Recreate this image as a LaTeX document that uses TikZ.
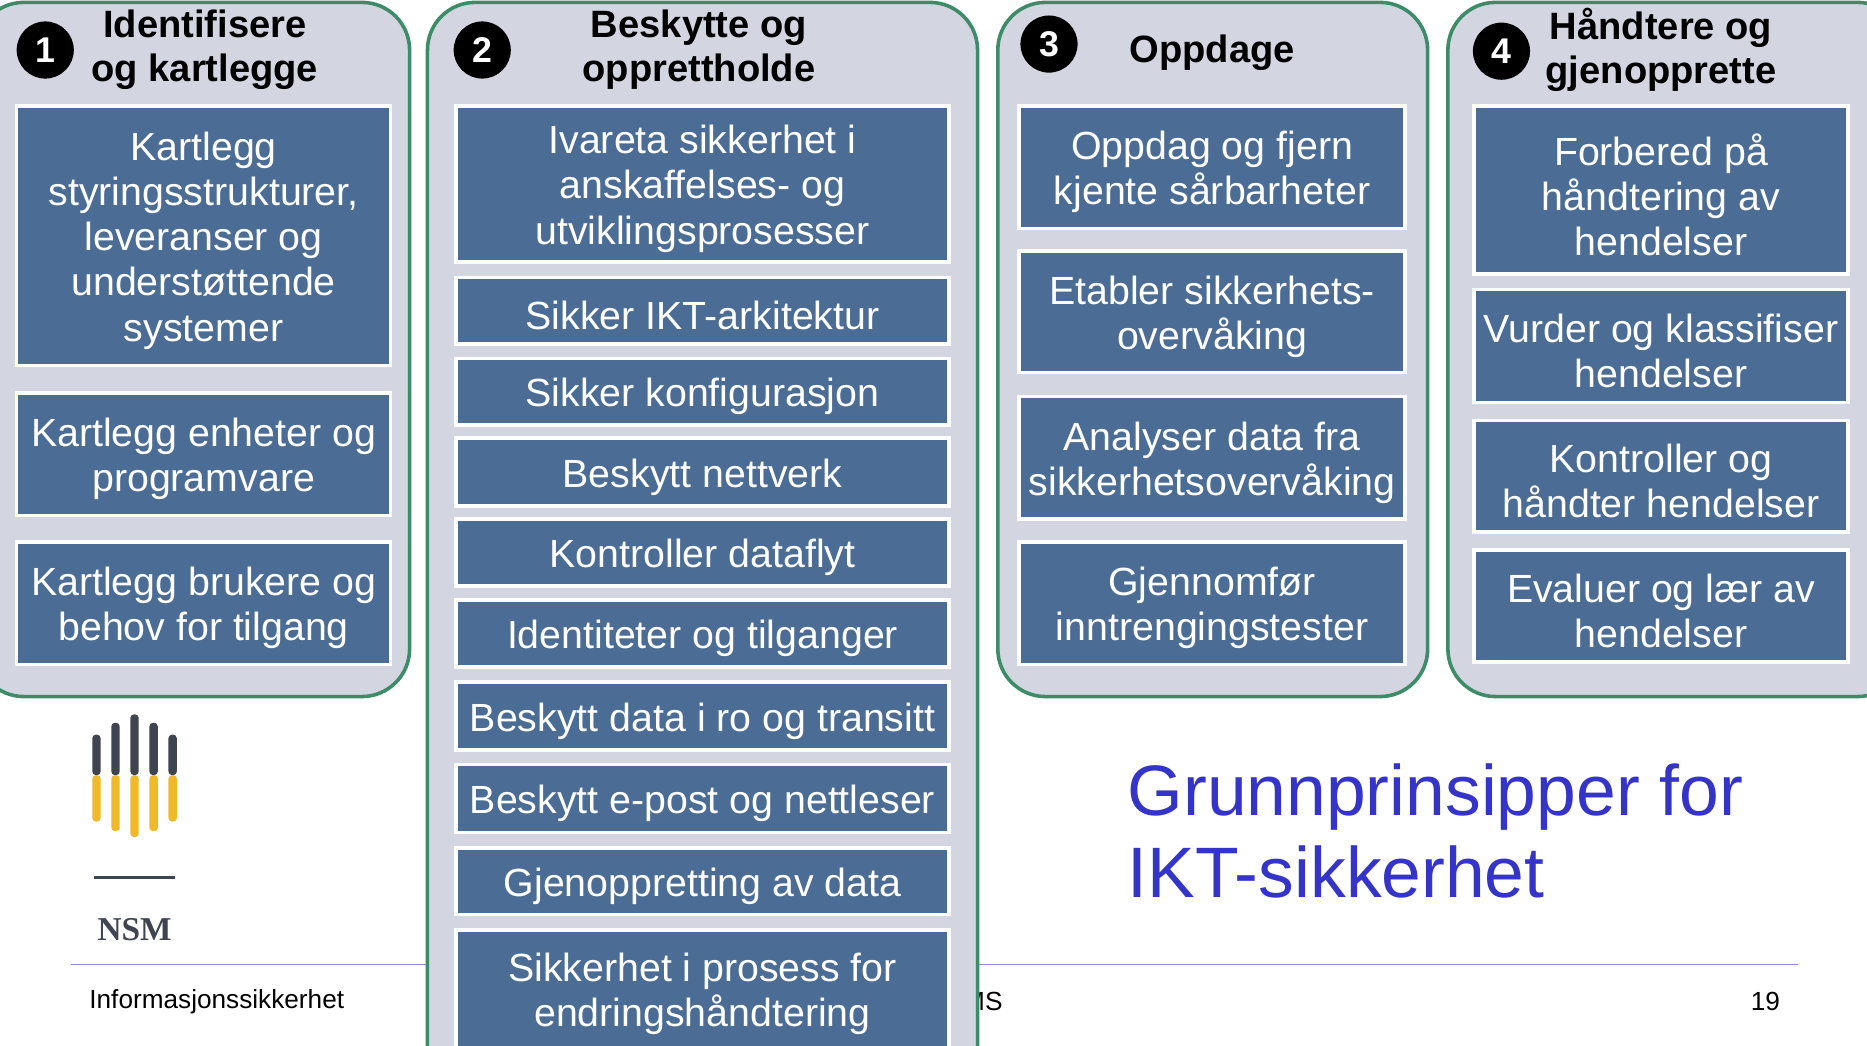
\documentclass[tikz,border=0pt]{standalone}
\usepackage{fontspec}
\setmainfont{Liberation Sans}
\newfontfamily\serifnsm{Liberation Serif}
\definecolor{grpfill}{HTML}{D3D5E0}
\definecolor{grpline}{HTML}{3D8C68}
\definecolor{boxfill}{HTML}{4B6C94}
\definecolor{titleblue}{HTML}{3434C8}
\definecolor{rule}{HTML}{8A8AE6}
\definecolor{darkbar}{HTML}{3F4550}
\definecolor{yelbar}{HTML}{F0B92A}
\tikzset{
  grp/.style={draw=grpline, fill=grpfill, line width=1.5pt, rounded corners=20pt},
  ibox/.style={draw=white, fill=boxfill, line width=1.5pt, inner sep=0pt},
  btext/.style={text=white, align=center, inner sep=0pt, font=\fontsize{16.5}{19}\selectfont},
  num/.style={circle, fill=black, text=white, minimum size=24pt, inner sep=0pt, font=\bfseries\fontsize{15}{15}\selectfont},
  head/.style={align=center, font=\bfseries\fontsize{16}{18.5}\selectfont},
}
\newcommand{\bx}[6]{\node[ibox, minimum width={(#4-#2)*0.5pt}, minimum height={(#5-#3)*0.5pt}] (#1) at ({(#2+#4)/2},{(#3+#5)/2}) {};
\node[btext] (#1t) at ([yshift=-2pt]#1.center) {#6};}
\begin{document}
\begin{tikzpicture}[x=0.5pt,y=-0.5pt]
\useasboundingbox (0,0) rectangle (1568,878);
\clip (0,0) rectangle (1568,878);
\fill[white] (0,0) rectangle (1568,878);
% footer
\draw[rule, line width=0.8pt] (60,810) -- (1510,810);
\node[anchor=west, font=\fontsize{11}{13}\selectfont] (foot) at (68,841) {Informasjonssikkerhet};
\node[anchor=east, font=\fontsize{11}{13}\selectfont] (isms) at (849,841) {ISMS};
\node[anchor=east, font=\fontsize{11}{13}\selectfont] (pg) at (1502,841) {19};
% title
\node[anchor=north west, align=left, text=titleblue, font=\fontsize{30}{34.5}\selectfont] (title) at (940,634) {Grunnprinsipper for\\IKT-sikkerhet};
% logo
\foreach \xx/\t/\b in {81/617/690, 97/607/698, 113/600/703, 129/607/698, 145/617/690} {
  \fill[darkbar, rounded corners=1.5pt] (\xx-3.5,\t) rectangle (\xx+3.5,651);
  \fill[yelbar, rounded corners=1.5pt] (\xx-3.5,651) rectangle (\xx+3.5,\b);
}
\draw[darkbar, line width=1.2pt] (79,737) -- (147,737);
\node[text=darkbar, font=\serifnsm\bfseries\fontsize{14}{14}\selectfont] (nsm) at (113,781) {NSM};
% groups
\draw[grp] (-20,2) rectangle (344,585);
\draw[grp] (359,2) rectangle (821,920);
\draw[grp] (838,2) rectangle (1199,585);
\draw[grp] (1216,2) rectangle (1600,585);
% headers
\node[num] (n1) at (38,42) {1};
\node[head] (h1) at (172,42) {Identifisere\\og kartlegge};
\node[num] (n2) at (405,42) {2};
\node[head] (h2) at (587,42) {Beskytte og\\opprettholde};
\node[num] (n3) at (881,37) {3};
\node[head] (h3) at (1018,44) {Oppdage};
\node[num] (n4) at (1261,43) {4};
\node[head] (h4) at (1395,42) {Håndtere og\\gjenopprette};
% group 1
\bx{a1}{14}{89}{328}{307}{Kartlegg\\styringsstrukturer,\\leveranser og\\understøttende\\systemer}
\bx{a2}{14}{330}{328}{433}{Kartlegg enheter og\\programvare}
\bx{a3}{14}{455}{328}{558}{Kartlegg brukere og\\behov for tilgang}
% group 2
\bx{b1}{383}{89}{797}{220}{Ivareta sikkerhet i\\anskaffelses- og\\utviklingsprosesser}
\bx{b2}{383}{233}{797}{289}{Sikker IKT-arkitektur}
\bx{b3}{383}{301}{797}{357}{Sikker konfigurasjon}
\bx{b4}{383}{368}{797}{425}{Beskytt nettverk}
\bx{b5}{383}{436}{797}{492}{Kontroller dataflyt}
\bx{b6}{383}{504}{797}{560}{Identiteter og tilganger}
\bx{b7}{383}{573}{797}{630}{Beskytt data i ro og transitt}
\bx{b8}{383}{642}{797}{699}{Beskytt e-post og nettleser}
\bx{b9}{383}{712}{797}{768}{Gjenoppretting av data}
\bx{b10}{383}{781}{797}{880}{Sikkerhet i prosess for\\endringshåndtering}
% group 3
\bx{c1}{856}{89}{1180}{192}{Oppdag og fjern\\kjente sårbarheter}
\bx{c2}{856}{211}{1180}{313}{Etabler sikkerhets-\\overvåking}
\bx{c3}{856}{333}{1180}{436}{Analyser data fra\\sikkerhetsovervåking}
\bx{c4}{856}{455}{1180}{558}{Gjennomfør\\inntrengingstester}
% group 4
\bx{d1}{1238}{89}{1552}{230}{Forbered på\\håndtering av\\hendelser}
\bx{d2}{1238}{243}{1552}{338}{Vurder og klassifiser\\hendelser}
\bx{d3}{1238}{353}{1552}{447}{Kontroller og\\håndter hendelser}
\bx{d4}{1238}{462}{1552}{556}{Evaluer og lær av\\hendelser}
\end{tikzpicture}
\end{document}
